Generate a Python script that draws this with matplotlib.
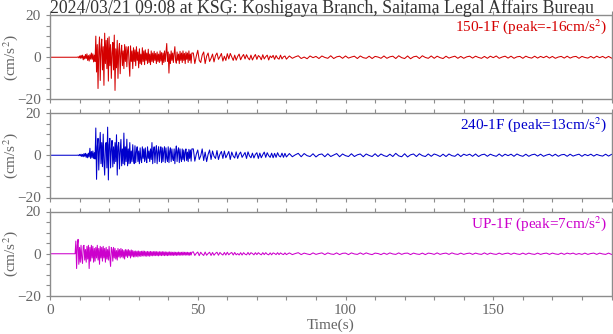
import numpy as np
import matplotlib
matplotlib.use("Agg")
import matplotlib.pyplot as plt
from matplotlib.ticker import MultipleLocator

plt.rcParams['font.family'] = ['Liberation Serif', 'DejaVu Serif']
plt.rcParams['mathtext.fontset'] = 'stix'

title = "2024/03/21 09:08 at KSG: Koshigaya Branch, Saitama Legal Affairs Bureau"
channels = ["150-1F", "240-1F", "UP-1F"]
peaks = ["-16", "13", "7"]
colors = ["#d40000", "#0000cc", "#cc00cc"]

# strong-motion part: samples every 0.25 s from 8.0 s to 48.0 s (cm/s^2)
red_strong = [
    0, 0, 0, 0, 0, 0, 0.2, -0.3,
    0.6, -0.5, 0.9, -0.4, 1.0, -1.2, 0.5, -0.8,
    1.3, -0.6, 1.6, -1.5, 0.8, -1.8, 1.2, -0.9,
    2.0, -1.0, 1.6, -2.2, 1.0, -2.0, 10.0, -7.0,
    6.0, -14.8, 3.0, 9.6, -11.0, 4.0, 8.6, -6.0,
    5.0, -13.3, 11.4, -3.0, 8.0, -5.4, 9.0, -11.3,
    9.7, -4.0, 6.0, -10.0, 2.0, 7.0, -6.0, 10.5,
    -15.7, 4.0, -5.0, 8.0, -10.0, 3.0, 6.5, -7.8,
    2.0, 5.7, -4.0, 3.0, -5.4, 6.0, -2.0, 5.0,
    -4.5, 3.0, 5.0, -3.0, -9.0, 5.4, -2.0, 3.0,
    -5.4, 4.5, -2.0, 3.5, -4.0, 5.0, -1.5, 2.5,
    -5.0, 4.0, -3.0, 1.5, -3.5, 4.5, -2.0, 3.0,
    -3.5, 3.5, -1.5, 2.0, -3.0, 3.8, -2.5, 1.5,
    -3.5, 3.0, -2.0, 2.0, -2.5, 2.8, -1.5, 1.8,
    -3.0, 2.5, -2.0, 1.5, -2.5, 3.0, -1.8, 2.2,
    -3.5, 2.0, -2.5, 3.0, -2.0, 2.5, 6.5, -2.0,
    2.5, -7.5, 1.5, -3.0, 3.0, -1.5, 2.0, -2.5,
    1.8, 5.0, -1.5, -2.8, 2.5, -1.5, 1.5, -3.0,
    2.8, -1.5, 2.0, -2.5, 3.0, -1.5, 1.8, -3.0,
    2.5, -1.0, 2.0, -2.5, 3.0, -1.5, 1.5, -2.8,
    2.0,
]
blue_strong = [
    0, 0, 0, 0, 0, 0, 0.1, -0.2,
    0.4, -0.3, 0.5, -0.6, 0.4, -0.7, 0.8, -0.5,
    0.9, -1.0, 0.6, -1.2, 1.0, -0.8, 3.3, -1.5,
    1.8, -1.2, 2.0, -1.5, 1.2, -1.8, 12.9, -11.4,
    4.0, 8.0, -7.0, 3.0, 10.8, -4.0, 6.0, -5.4,
    10.0, -3.0, -9.4, 5.0, 6.0, -6.0, 13.3, -11.7,
    5.0, 8.0, -6.0, 3.0, 7.0, -5.5, 4.0, -4.0,
    6.0, -3.0, 9.7, -9.4, 4.0, 6.0, -6.5, 2.0,
    7.5, -5.0, 3.0, -4.0, 10.5, -4.6, 4.0, -3.0,
    7.6, -5.0, 3.0, -4.0, 6.0, -3.8, 2.0, -3.0,
    5.0, -2.0, -4.0, 4.5, -3.5, 2.0, 4.0, -3.0,
    2.0, -4.0, 3.5, -2.0, -3.5, 4.0, -1.5, 3.0,
    -3.0, 3.5, -2.0, -3.5, 4.0, -1.5, 2.0, -3.0,
    3.0, -2.0, 6.0, -4.0, 2.0, 4.0, -3.5, 2.0,
    4.5, -4.0, 1.5, 4.0, -3.0, 2.0, 4.0, -3.5,
    3.5, -3.0, 2.0, 4.0, -3.5, 3.5, -1.5, -3.0,
    4.0, -3.5, 2.0, 3.5, -3.0, 3.0, -1.5, -2.5,
    3.0, -4.0, 1.5, 4.4, -3.0, 2.0, 3.5, -3.5,
    3.0, -1.5, -3.0, 3.0, -2.0, 2.5, -2.8, 1.5,
    3.0, -2.5, 1.5, -3.0, 2.8, -1.5, 2.5, -2.8,
    3.0,
]
mag_strong = [
    0, 0, 0, 6.0, -7.0, 4.0, 6.8, -5.0,
    3.0, -4.0, 4.0, -2.0, -4.5, 3.5, 4.0, -3.0,
    2.0, -4.0, 3.5, -2.5, 4.0, -7.0, 3.0, -3.5,
    4.0, -2.0, 3.5, -4.0, 2.5, -3.5, 3.0, -2.0,
    4.0, -3.0, 2.5, -5.0, 3.5, -2.0, 3.0, -3.5,
    3.5, -2.0, 2.5, -4.0, 3.0, -2.5, 2.0, -3.0,
    3.5, -2.0, -6.0, 3.0, 2.0, -3.5, 3.0, -2.0,
    2.5, -2.5, 1.5, -3.0, 2.5, -1.5, 2.0, -2.0,
    2.5, -1.5, 2.0, -2.0, 1.5, -2.5, 2.0, -1.2,
    1.8, -1.8, 2.0, -1.0, 1.5, -2.0, 1.8, -1.2,
    1.5, -1.5, 1.2, -1.5, 1.3, -1.2, 1.2, -1.5,
    1.3, -1.1, 1.1, -1.3, 1.2, -1.0, 1.3, -1.1,
    1.2, -1.1, 1.0, -1.2, 1.1, -1.0, 1.0, -1.2,
    1.1, -0.9, 1.0, -1.0, 1.0, -0.9, 1.1, -0.9,
    1.0, -0.9, 0.9, -1.0, 1.0, -0.8, 0.9, -0.9,
    1.0, -0.8, 0.9, -0.9, 0.9, -0.8, 0.8, -0.9,
    0.8, -0.8, 0.9, -0.7, 0.8, -0.8, 0.7, -0.8,
    0.8, -0.7, 0.7, -0.8, 0.7, -0.7, 0.8, -0.7,
    0.7, -0.7, 0.7, -0.7, 0.8, -0.6, 0.7, -0.7,
    0.7, -0.6, 0.7, -0.7, 0.6, -0.7, 0.7, -0.6,
    0.7,
]

# middle part: samples every 0.5 s from 48.5 s to 80.0 s
red_mid = [
    2.0, -3.0, 0.5, 3.3, -1.5, -2.5, 1.0, 2.5,
    -3.0, 0.5, 2.0, -2.0, -0.5, 1.5, -2.2, 0.8,
    2.0, -1.0, 0.3, 1.8, -1.8, 0.5, -1.5, 1.7,
    -0.8, 1.8, 0.2, -1.5, 1.0, -1.4, 0.4, 1.5,
    -1.2, 0.3, 1.3, -0.8, 1.2, -0.3, -1.2, 1.0,
    -1.3, 0.2, 1.3, -1.0, 0.8, 0.2, -1.2, 1.2,
    -0.8, 0.3, 1.0, -1.3, 0.6, -0.2, 0.9, -1.0,
    0.8, -0.4, -0.9, 1.0, -0.8, 0.2, 0.6, -0.9,
]
blue_mid = [
    3.0, -2.8, 0.5, 2.5, -2.0, -0.3, 3.0, -2.5,
    1.5, -3.0, 0.4, 2.5, -2.0, 2.0, -0.5, -1.5,
    2.2, -2.0, 0.5, 1.8, -1.5, 2.0, -1.2, 0.3,
    1.8, -2.0, 1.5, -0.4, -1.3, 1.6, -1.5, 0.5,
    1.5, -1.0, 0.2, 1.3, -1.5, 1.6, -0.3, -1.2,
    1.0, -1.3, 0.4, 1.2, -1.5, 1.0, -1.2, 0.3,
    1.5, -1.0, 1.2, -0.2, -1.0, 1.0, -1.2, 0.9,
    -1.0, 1.2, -0.3, -0.8, 1.0, -1.0, 0.9, -0.8,
]
mag_mid = [
    0.9, -0.8, 0.2, 0.8, -0.9, 0.7, -0.2, -0.8,
    0.8, -0.7, 0.1, 0.7, -0.8, 0.6, -0.7, 0.2,
    0.7, -0.7, 0.6, -0.1, -0.6, 0.6, -0.6, 0.7,
    -0.5, 0.2, 0.6, -0.6, 0.6, -0.5, 0.1, -0.6,
    0.5, -0.6, 0.5, -0.2, -0.5, 0.6, -0.5, 0.5,
    0.1, -0.5, 0.5, -0.4, 0.5, -0.1, -0.5, 0.5,
    -0.4, 0.5, -0.2, -0.5, 0.4, -0.5, 0.4, 0.1,
    -0.4, 0.5, -0.4, 0.4, -0.1, -0.4, 0.4, -0.4,
]

# coda: samples every 1 s from 81 s to 190 s
red_tail = [
    0.6, -0.5, 0.2, 0.7, -0.6, 0.1, -0.7, 0.6, -0.2, 0.4,
    -0.6, 0.6, -0.1, -0.5, 0.7, -0.6, 0.2, 0.5, -0.5, 0.6,
    -0.4, 0.1, 0.5, -0.6, 0.6, -0.2, -0.5, 0.5, -0.6, 0.4,
    0.1, -0.5, 0.6, -0.5, 0.2, 0.5, -0.6, 0.7, -0.2, -0.6,
    0.6, -0.7, 0.2, 0.5, -0.6, 0.7, -0.1, -0.5, 0.6, -0.5,
    0.5, -0.2, -0.6, 0.5, -0.4, 0.1, 0.5, -0.5, 0.4, -0.5,
    0.2, 0.5, -0.4, 0.5, -0.1, -0.5, 0.4, -0.5, 0.5, -0.2,
    0.6, -0.5, 0.1, 0.5, -0.4, 0.5, -0.5, 0.2, 0.4, -0.5,
    0.5, -0.1, -0.4, 0.5, -0.4, 0.4, -0.2, 0.5, -0.4, 0.4,
    -0.5, 0.1, 0.4, -0.4, 0.5, -0.4, 0.2, 0.4, -0.5, 0.4,
    -0.1, -0.4, 0.4, -0.4, 0.5, -0.2, 0.4, -0.4, 0.4, -0.4,
]
blue_tail = [
    0.8, -0.7, 0.2, 0.9, -0.7, 0.8, -0.2, -0.6, 0.7, -0.8,
    0.3, 0.6, -0.7, 0.7, -0.6, 0.1, 0.8, -0.7, 0.6, -0.2,
    -0.6, 0.7, -0.6, 0.2, 0.6, -0.7, 0.6, -0.1, -0.6, 0.7,
    -0.6, 0.6, -0.2, -0.6, 0.5, -0.6, 0.9, -0.3, -0.7, 0.7,
    -0.8, 0.2, 0.6, -0.6, 0.7, -0.2, -0.6, 0.6, -0.5, 0.6,
    0.1, -0.6, 0.5, -0.6, 0.6, -0.2, -0.5, 0.6, -0.6, 0.5,
    -0.1, 0.5, -0.5, 0.6, -0.6, 0.2, 0.5, -0.5, 0.5, -0.1,
    -0.5, 0.6, -0.5, 0.5, -0.2, 0.5, -0.5, 0.6, -0.1, -0.5,
    0.5, -0.5, 0.2, 0.5, -0.4, 0.5, -0.5, 0.1, 0.5, -0.4,
    0.5, -0.5, 0.2, 0.4, -0.5, 0.5, -0.4, 0.1, 0.5, -0.5,
    0.4, -0.2, 0.5, -0.4, 0.4, -0.1, -0.4, 0.5, -0.4, 0.4,
]
mag_tail = [
    0.4, -0.4, 0.1, 0.5, -0.4, 0.3, -0.1, -0.4, 0.4, -0.3,
    0.1, 0.4, -0.4, 0.4, -0.1, -0.3, 0.4, -0.4, 0.2, 0.3,
    -0.4, 0.4, -0.1, -0.3, 0.4, -0.3, 0.4, -0.1, -0.4, 0.3,
    0.1, -0.4, 0.3, -0.3, 0.4, -0.1, -0.3, 0.4, -0.3, 0.2,
    0.3, -0.4, 0.3, -0.1, -0.3, 0.3, -0.4, 0.3, 0.1, -0.3,
    0.4, -0.3, 0.1, 0.3, -0.3, 0.4, -0.1, -0.3, 0.3, -0.3,
    0.1, 0.3, -0.3, 0.3, -0.1, -0.3, 0.4, -0.3, 0.3, -0.1,
    -0.3, 0.3, -0.3, 0.1, 0.3, -0.3, 0.3, -0.1, -0.3, 0.3,
    -0.3, 0.3, -0.1, -0.3, 0.3, -0.3, 0.1, 0.3, -0.3, 0.3,
    -0.1, -0.3, 0.3, -0.3, 0.3, -0.1, 0.3, -0.3, 0.1, -0.3,
    0.3, -0.3, 0.1, 0.3, -0.3, 0.3, -0.1, -0.3, 0.3, -0.3,
]

strong = [red_strong, blue_strong, mag_strong]
mids = [red_mid, blue_mid, mag_mid]
tails = [red_tail, blue_tail, mag_tail]

W, H = 613, 334
fig = plt.figure(figsize=(W / 100, H / 100), dpi=100)
left, right = 50 / W, 611.5 / W
tops = [15, 113, 211.5]
ph = 84.5
grey = "#666666"
axes = []
for i in range(3):
    bottom = 1 - (tops[i] + ph) / H
    ax = fig.add_axes([left, bottom, right - left, ph / H])
    axes.append(ax)
    s = np.asarray(strong[i], dtype=float)
    m = np.asarray(mids[i], dtype=float)
    tl = np.asarray(tails[i], dtype=float)
    t_s = 8.0 + 0.25 * np.arange(len(s))
    t_m = 48.5 + 0.5 * np.arange(len(m))
    t_t = 81.0 + 1.0 * np.arange(len(tl))
    t = np.concatenate([[0.0], t_s, t_m, t_t])
    y = np.concatenate([[0.0], s, m, tl])
    ax.plot(t, y, color=colors[i], lw=0.75)
    ax.set_xlim(0, 190)
    ax.set_ylim(-20, 20)
    ax.xaxis.set_major_locator(MultipleLocator(50))
    ax.xaxis.set_minor_locator(MultipleLocator(10))
    ax.yaxis.set_major_locator(MultipleLocator(20))
    ax.yaxis.set_minor_locator(MultipleLocator(5))
    for sp in ax.spines.values():
        sp.set_color("#8c8c8c")
        sp.set_linewidth(1.0)
    ax.tick_params(which='both', direction='out', length=2.6, width=0.8,
                   color="#8c8c8c", labelcolor=grey, labelsize=11,
                   top=True, bottom=True, left=True, right=False)
    ax.tick_params(axis='y', which='both', pad=4)
    ax.tick_params(axis='x', which='both', pad=3.5)
    if i < 2:
        ax.tick_params(labelbottom=False)
    ycen = 1 - (tops[i] + ph / 2) / H
    fig.text(10.5 / W, ycen, "(cm/s$^2$)", rotation=90, ha='center', va='center',
             color=grey, fontsize=11)
    ax.text(0.993, 0.975, f"{channels[i]} (peak={peaks[i]}cm/s$^2$)",
            transform=ax.transAxes, ha='right', va='top',
            color=colors[i], fontsize=11)

axes[2].set_xlabel("Time(s)", color=grey, fontsize=11, labelpad=1)
fig.text(50 / W, 1 - 8 / H, title, ha='left', va='center', color="#333333", fontsize=12.8)

fig.savefig("out.png", dpi=100)
